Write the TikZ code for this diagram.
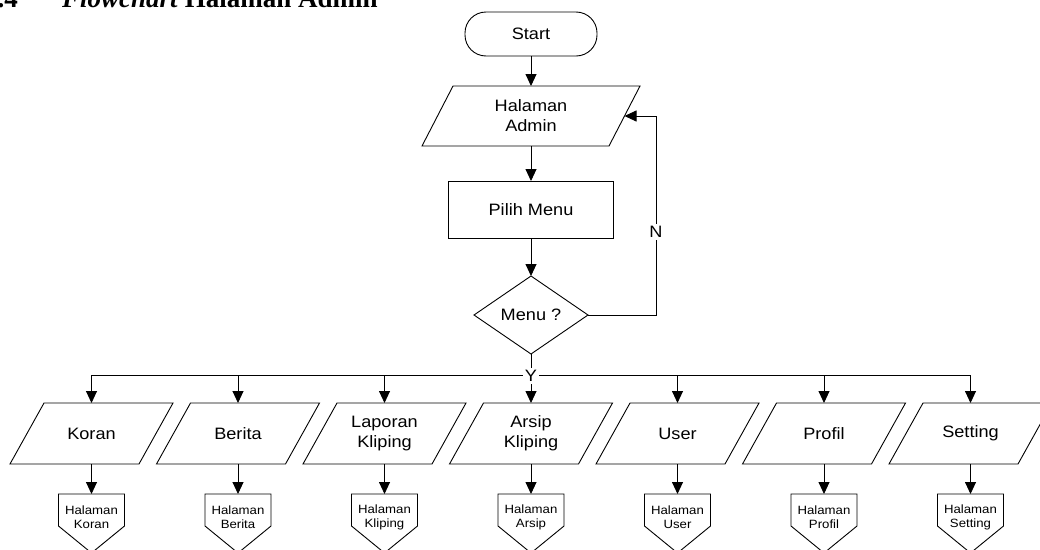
\documentclass[tikz,border=0pt]{standalone}
\usepackage{fontspec}
\setmainfont{Liberation Sans}[FakeStretch=1.1]
\newfontfamily\titlefont{Liberation Serif}
\usetikzlibrary{arrows.meta,shapes.geometric,calc}

\tikzset{
  x=1pt, y=-1pt,
  every node/.style={inner sep=0pt, outer sep=0pt},
  line/.style={line width=0.9pt, draw=black},
  arr/.style={line, -{Triangle[length=12pt,width=11pt]}},
  bigtxt/.style={font=\fontsize{16.5}{20}\selectfont, align=center},
  smalltxt/.style={font=\fontsize{12}{14}\selectfont, align=center},
  terminal/.style={line, bigtxt, rectangle, rounded corners=21pt,
    minimum width=132pt, minimum height=44pt},
  process/.style={line, bigtxt, rectangle, minimum width=165pt, minimum height=57pt},
  decision/.style={line, bigtxt, diamond, minimum width=114pt, minimum height=78pt},
  iobox/.style={bigtxt, rectangle},
  offpage/.style={smalltxt, rectangle, minimum width=66pt, minimum height=46pt},
  flag/.style={fill=white, bigtxt, inner sep=2pt},
}

% outline of a data (parallelogram) box: #1 node name, #2 half of the slant offset
\newcommand{\drawpara}[2]{%
  \draw[line] ([xshift=#2]#1.north west) -- ([xshift=#2]#1.north east)
    -- ([xshift=-#2]#1.south east) -- ([xshift=-#2]#1.south west) -- cycle;}

\begin{document}
\begin{tikzpicture}
\useasboundingbox (0,0) rectangle (1040,549);

% heading of the section
\node[anchor=base east, font=\titlefont\bfseries\fontsize{27}{30}\selectfont] (tnum) at (18,7.5) {.4};
\node[anchor=base west, font=\titlefont\bfseries\fontsize{27}{30}\selectfont] (title) at (62,7.5) {\textit{Flowchart} Halaman Admin};

% main column
\node[terminal] (start) at (531,34) {Start};
\node[iobox, minimum width=187pt, minimum height=60pt] (admin) at (531,116) {Halaman\\Admin};
\drawpara{admin}{15.5pt}
\node[process] (pilih) at (531,209.5) {Pilih Menu};
\node[decision] (menu) at (531,315) {Menu ?};

\draw[arr] (start) -- (admin);
\draw[arr] (admin) -- (pilih);
\draw[arr] (pilih) -- (menu);

% "N" branch back to the admin page
\coordinate (nret) at (656,116);
\draw[arr] (menu.east) -| (nret) -- (admin.east);
\node[flag] (nlbl) at (656,232) {N};

% menu choices
\coordinate (ybus) at (531,375);
\draw[line] (menu.south) -- (ybus);

\foreach \name/\txt/\hal/\htxt [count=\i from 0] in {
  koran/Koran/hkoran/{Halaman\\Koran},
  berita/Berita/hberita/{Halaman\\Berita},
  laporan/{Laporan\\Kliping}/hkliping/{Halaman\\Kliping},
  arsip/{Arsip\\Kliping}/harsip/{Halaman\\Arsip},
  user/User/huser/{Halaman\\User},
  profil/Profil/hprofil/{Halaman\\Profil},
  setting/Setting/hsetting/{Halaman\\Setting}} {
  \pgfmathsetmacro{\xx}{91.5+146.5*\i}
  \node[iobox, minimum width=129pt, minimum height=61pt] (\name) at (\xx,433.5) {\txt};
  \drawpara{\name}{17pt}
  \node[offpage] (\hal) at (\xx,517) {\htxt};
  \draw[line] (\hal.north west) -- (\hal.north east) -- ([yshift=14pt]\hal.south east)
    -- ([yshift=-13pt]\hal.south) -- ([yshift=14pt]\hal.south west) -- cycle;
  \draw[arr] (ybus) -| (\name.north);
  \draw[arr] (\name.south) -- (\hal.north);
}

\node[flag] (ylbl) at (531,376) {Y};
\end{tikzpicture}
\end{document}
